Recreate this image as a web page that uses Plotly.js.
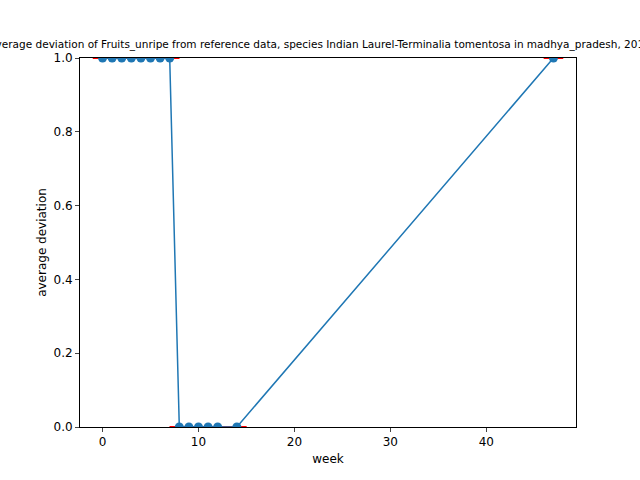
<!DOCTYPE html><html><head><script src="https://cdn.plot.ly/plotly-3.0.1.min.js"></script></head><body style="margin:0"><div id="c" style="width:640px;height:480px"></div><script>
const weeks=[0,1,2,3,4,5,6,7,8,9,10,11,12,14,47];
const deviation=[1,1,1,1,1,1,1,1,0,0,0,0,0,0,1];
Plotly.newPlot('c',[
{x:weeks,y:deviation,mode:'markers',marker:{symbol:'line-ew',size:14,line:{color:'red',width:2}},hoverinfo:'skip',cliponaxis:true},
{x:weeks,y:deviation,mode:'lines+markers',line:{color:'#1f77b4',width:1.5},marker:{color:'#1f77b4',size:9},cliponaxis:true}
],{width:640,height:480,showlegend:false,paper_bgcolor:'white',plot_bgcolor:'white',
font:{family:'DejaVu Sans',size:12,color:'black'},
margin:{l:80,r:64,t:58,b:53},
title:{text:'average deviation of Fruits_unripe from reference data, species Indian Laurel-Terminalia tomentosa in madhya_pradesh, 2014',font:{size:10.5},x:0.5,xanchor:'center',y:0.9,yanchor:'bottom'},
xaxis:{range:[-2.35,49.35],tickvals:[0,10,20,30,40],showgrid:false,zeroline:false,showline:true,mirror:true,linecolor:'black',ticks:'outside',ticklen:4,title:{text:'week',font:{size:12},standoff:6}},
yaxis:{range:[0,1],tickvals:[0,0.2,0.4,0.6,0.8,1],ticktext:['0.0','0.2','0.4','0.6','0.8','1.0'],showgrid:false,zeroline:false,showline:true,mirror:true,linecolor:'black',ticks:'outside',ticklen:4,title:{text:'average deviation',font:{size:12}}}
},{staticPlot:true});
</script></body></html>
